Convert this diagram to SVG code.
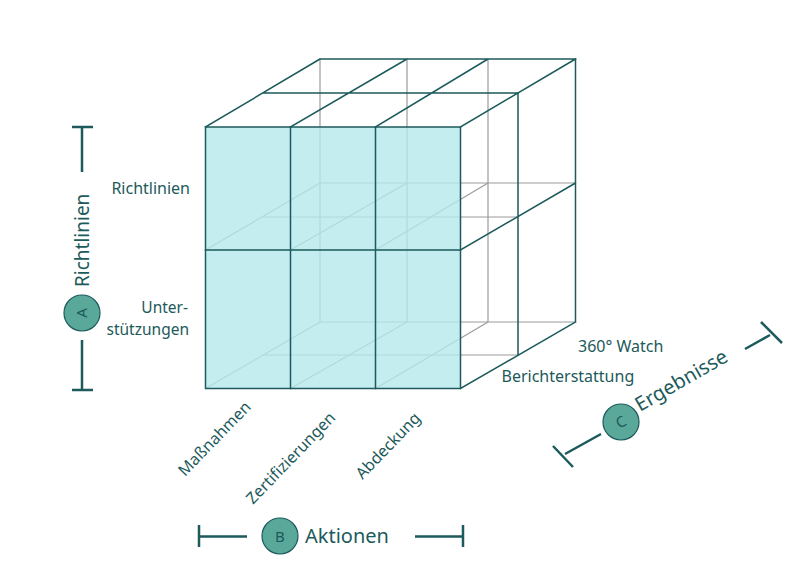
<svg xmlns="http://www.w3.org/2000/svg" width="808" height="588" viewBox="0 0 808 588">
<style>
.d{stroke:#1c5a5b;stroke-width:1.5;fill:none;stroke-linecap:square}
.g{stroke:#9c9c9c;stroke-width:1.2;fill:none}
.ax{stroke:#1c5a5b;stroke-width:2.5;fill:none}
.t{font-family:"Noto Sans",sans-serif;fill:#1d5a5b}
.s{font-size:16px}
.l{font-size:20px}
.c{fill:#5aa89a;stroke:#1c5a5b;stroke-width:1.2}
.cl{font-size:15px;text-anchor:middle}
</style>
<rect width="808" height="588" fill="#ffffff"/>
<g id="cube">
  <g id="hidden-lines" class="g">
    <path d="M320,59 V322 M407,59 V322 M488,59 V322"/>
    <path d="M320,183 H575.5 M320,322 H575.5"/>
    <path d="M263,217 H518 M263,355 H518"/>
    <path d="M205.5,250 L320,183 M290.5,250 L407,183 M375.5,250 L488,183"/>
    <path d="M205.5,388.5 L320,322 M290.5,388.5 L407,322 M375.5,388.5 L488,322"/>
  </g>
  <rect id="front-face" x="205.5" y="127" width="255" height="261.5" fill="#b5e9ec" fill-opacity="0.8"/>
  <g id="edges" class="d">
    <rect x="205.5" y="127" width="255" height="261.5"/>
    <path d="M290.5,127 V388.5 M375.5,127 V388.5 M205.5,250 H460.5"/>
    <path d="M205.5,127 L320,59 M290.5,127 L407,59 M375.5,127 L488,59 M460.5,127 L575.5,59 M320,59 H575.5 M263,93 H518"/>
    <path d="M575.5,59 V322 M518,93 V355 M460.5,250 L575.5,183 M460.5,388.5 L575.5,322"/>
  </g>
</g>
<g id="row-labels" class="t s">
  <text x="190" y="194" text-anchor="end">Richtlinien</text>
  <text text-anchor="end" style="font-size:15.5px"><tspan x="188" y="313">Unter-</tspan><tspan x="189" y="334.5">stützungen</tspan></text>
</g>
<g id="column-labels" class="t s">
  <text transform="translate(185,477) rotate(-46)">Maßnahmen</text>
  <text transform="translate(253,505) rotate(-46)">Zertifizierungen</text>
  <text transform="translate(362.5,480) rotate(-46)">Abdeckung</text>
</g>
<g id="depth-labels" class="t s">
  <text x="578" y="352">360° Watch</text>
  <text x="501.5" y="382">Berichterstattung</text>
</g>
<g id="axis-A">
  <path class="ax" d="M72,127 H93 M82,127 V172 M82,340 V390 M72,390 H93"/>
  <text class="t l" transform="translate(88.5,287) rotate(-90)" style="font-size:19px">Richtlinien</text>
  <circle class="c" cx="82" cy="313" r="18"/>
  <text class="t cl" transform="translate(82,313) rotate(-90)" y="5.3">A</text>
</g>
<g id="axis-B">
  <path class="ax" d="M199,525 V547 M199,536.5 H247 M415,536.5 H463 M463,525 V547"/>
  <circle class="c" cx="280" cy="536" r="18"/>
  <text class="t cl" x="280" y="541.5">B</text>
  <text class="t l" x="305" y="543">Aktionen</text>
</g>
<g id="axis-C">
  <path class="ax" d="M553,446 L573,467 M565,454 L601,434 M745,349 L770,335 M761,322 L782,343"/>
  <circle class="c" cx="621" cy="422" r="18"/>
  <text class="t cl" transform="translate(621,422) rotate(-30)" y="5.3">C</text>
  <text class="t l" transform="translate(640,412) rotate(-30)">Ergebnisse</text>
</g>
</svg>
